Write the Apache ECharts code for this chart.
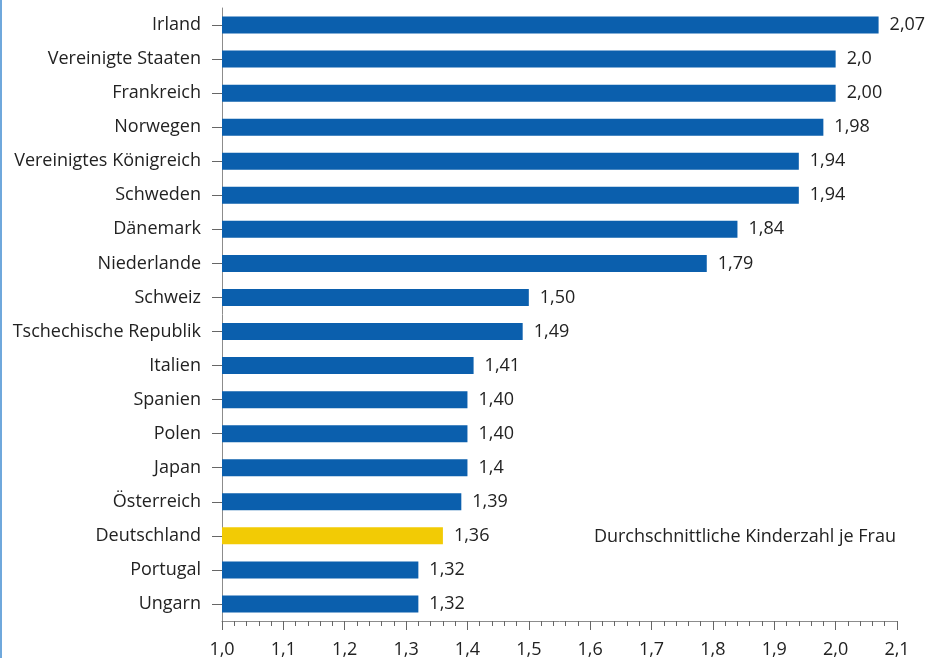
<!DOCTYPE html>
<html>
<head>
<meta charset="utf-8">
<script src="https://cdn.jsdelivr.net/npm/echarts@6/dist/echarts.min.js"></script>
<style>
  html, body { margin: 0; padding: 0; background: #fff; }
  #chart { width: 931px; height: 658px; }
  #edge { position: absolute; left: 0; top: 0; width: 2px; height: 658px; background: #6fa8dc; }
</style>
</head>
<body>
<div id="chart"></div>
<div id="edge"></div>
<script>
// Kategorien (von oben nach unten)
const countries = [
  "Irland", "Vereinigte Staaten", "Frankreich", "Norwegen",
  "Vereinigtes Königreich", "Schweden", "Dänemark", "Niederlande",
  "Schweiz", "Tschechische Republik", "Italien", "Spanien",
  "Polen", "Japan", "Österreich", "Deutschland", "Portugal", "Ungarn"
];
const values = [
  2.07, 2.0, 2.00, 1.98, 1.94, 1.94, 1.84, 1.79, 1.50,
  1.49, 1.41, 1.40, 1.40, 1.4, 1.39, 1.36, 1.32, 1.32
];
// Beschriftungen wie im Original (teils ohne zweite Nachkommastelle)
const valueLabels = [
  "2,07", "2,0", "2,00", "1,98", "1,94", "1,94", "1,84", "1,79", "1,50",
  "1,49", "1,41", "1,40", "1,40", "1,4", "1,39", "1,36", "1,32", "1,32"
];
const highlight = "Deutschland";
const xTicks = { min: 1.0, max: 2.1, interval: 0.1 };
const noteText = "Durchschnittliche Kinderzahl je Frau";

const blue = "#0b5fad";
const yellow = "#f2cb05";
const font = "Open Sans";

const chart = echarts.init(document.getElementById("chart"));

const barData = values.map((v, i) => ({
  value: v,
  itemStyle: { color: countries[i] === highlight ? yellow : blue },
  label: { formatter: valueLabels[i] },
}));

const option = {
  animation: false,
  grid: {
    left: 222, right: 34, top: 8, bottom: 37,
    containLabel: false,
    outerBoundsMode: "none",
  },
  xAxis: {
    type: "value",
    min: xTicks.min,
    max: xTicks.max,
    interval: xTicks.interval,
    axisLine: { show: true, lineStyle: { color: "#8c8c8c", width: 1 } },
    axisTick: { show: true, length: 9, lineStyle: { color: "#666" } },
    minorTick: { show: true, splitNumber: 5, length: 5, lineStyle: { color: "#666" } },
    splitLine: { show: false },
    axisLabel: {
      color: "#222",
      fontFamily: font,
      fontSize: 18,
      margin: 20,
      formatter: (v) => v.toFixed(1).replace(".", ","),
    },
  },
  yAxis: {
    type: "category",
    inverse: true,
    data: countries,
    axisLine: { show: true, lineStyle: { color: "#8c8c8c", width: 1 } },
    axisTick: { show: true, alignWithLabel: true, length: 10, lineStyle: { color: "#666" } },
    axisLabel: { color: "#222", fontFamily: font, fontSize: 18, margin: 21 },
  },
  series: [
    {
      type: "bar",
      data: barData,
      barWidth: 17,
      label: {
        show: true,
        position: "right",
        distance: 11,
        color: "#222",
        fontFamily: font,
        fontSize: 18,
      },
    },
  ],
  graphic: [
    {
      type: "text",
      right: 35,
      top: 528,
      style: { text: noteText, fill: "#222", font: "18px " + font },
    },
  ],
};

chart.setOption(option);
</script>
</body>
</html>
